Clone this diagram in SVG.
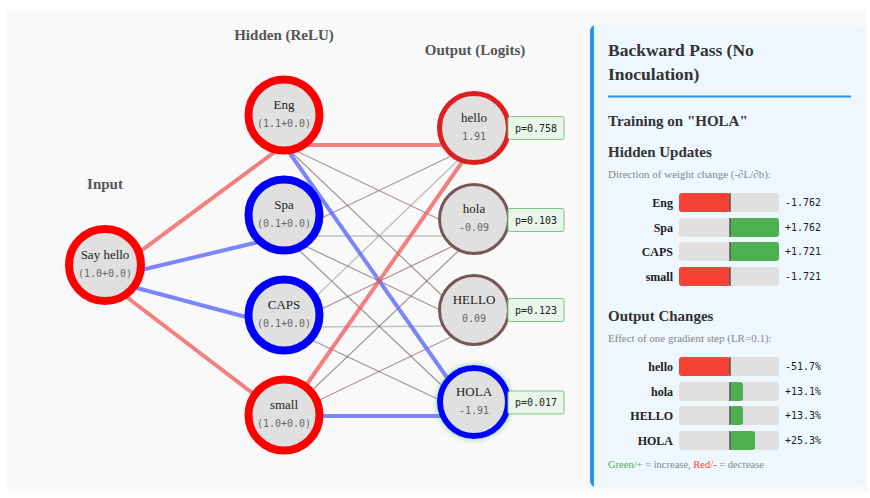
<svg xmlns="http://www.w3.org/2000/svg" width="870" height="498" viewBox="0 0 870 498">
  <style>
    .layer-title { font-family: "Liberation Serif", serif; font-size: 15px; font-weight: bold; fill: #555; text-anchor: middle; }
    .node-fill { fill: #e0e0e0; }
    .name { font-family: "Liberation Serif", serif; font-size: 13px; fill: #222; text-anchor: middle; }
    .val { font-family: "DejaVu Sans Mono", monospace; font-size: 10px; fill: #666; text-anchor: middle; }
    .act-pos { stroke: #ff0000; stroke-width: 8; }
    .act-neg { stroke: #0000ff; stroke-width: 8; }
    .out-neutral { stroke: #795555; stroke-width: 3; }
    .w-red { stroke: rgba(240, 80, 80, 0.72); stroke-width: 4; fill: none; }
    .w-blue { stroke: rgba(90, 100, 255, 0.78); stroke-width: 4; fill: none; }
    .w-brown { stroke: rgba(110, 75, 75, 0.55); stroke-width: 1.3; fill: none; }
    .w-purple { stroke: rgba(95, 85, 115, 0.6); stroke-width: 1.3; fill: none; }
    .w-grey { stroke: rgba(150, 150, 150, 0.55); stroke-width: 1.5; fill: none; }
    .pbox { fill: #e8f5e9; stroke: #7cc67f; stroke-width: 1; }
    .ptext { font-family: "DejaVu Sans Mono", monospace; font-size: 10px; fill: #222; text-anchor: middle; }
    .h1 { font-family: "Liberation Serif", serif; font-size: 17.5px; font-weight: bold; fill: #333; }
    .h2 { font-family: "Liberation Serif", serif; font-size: 15px; font-weight: bold; fill: #333; }
    .note { font-family: "Liberation Serif", serif; font-size: 11px; fill: #888; }
    .legend { font-family: "Liberation Serif", serif; font-size: 10.5px; fill: #888; }
    .blabel { font-family: "Liberation Serif", serif; font-size: 12px; font-weight: bold; fill: #222; text-anchor: end; }
    .bval { font-family: "DejaVu Sans Mono", monospace; font-size: 10px; fill: #222; }
    .track { fill: #e0e0e0; }
    .dec { fill: #f44336; }
    .inc { fill: #4caf50; }
    .axis { stroke: #555; stroke-width: 1.5; }
  </style>
  <defs>
    <filter id="glow" x="-40%" y="-40%" width="180%" height="180%">
      <feDropShadow dx="0" dy="0" stdDeviation="3" flood-color="#4caf50" flood-opacity="0.6"/>
    </filter>
    <clipPath id="panelClip">
      <rect x="590" y="25" width="275" height="462" rx="6"/>
    </clipPath>
  </defs>

  <!-- page -->
  <rect width="870" height="498" fill="#ffffff"/>
  <rect x="7" y="9" width="860" height="483" fill="#f9f9f9"/>

  <!-- layer titles -->
  <text class="layer-title" x="105" y="189">Input</text>
  <text class="layer-title" x="284" y="40">Hidden (ReLU)</text>
  <text class="layer-title" x="475" y="55">Output (Logits)</text>

  <!-- connectors -->
  <g id="connectors">
    <!-- input to hidden -->
    <line class="w-red" x1="103" y1="279" x2="284" y2="145"/>
    <line class="w-blue" x1="103" y1="279" x2="284" y2="236"/>
    <line class="w-blue" x1="103" y1="279" x2="284" y2="327"/>
    <line class="w-red" x1="103" y1="279" x2="284" y2="417"/>
    <!-- hidden to output, thin -->
    <line class="w-brown" x1="284" y1="145" x2="474" y2="236"/>
    <line class="w-brown" x1="284" y1="145" x2="474" y2="326"/>
    <line class="w-brown" x1="284" y1="236" x2="474" y2="145"/>
    <line class="w-grey" x1="284" y1="236" x2="474" y2="236"/>
    <line class="w-brown" x1="284" y1="236" x2="474" y2="326"/>
    <line class="w-purple" x1="284" y1="236" x2="474" y2="416"/>
    <line class="w-grey" x1="284" y1="327" x2="474" y2="145"/>
    <line class="w-brown" x1="284" y1="327" x2="474" y2="236"/>
    <line class="w-grey" x1="284" y1="327" x2="474" y2="326"/>
    <line class="w-purple" x1="284" y1="327" x2="474" y2="416"/>
    <line class="w-brown" x1="284" y1="417" x2="474" y2="236"/>
    <line class="w-brown" x1="284" y1="417" x2="474" y2="326"/>
    <!-- hidden to output, strong -->
    <line class="w-red" x1="284" y1="145" x2="474" y2="145"/>
    <line class="w-blue" x1="284" y1="145" x2="474" y2="416"/>
    <line class="w-red" x1="284" y1="417" x2="474" y2="145"/>
    <line class="w-blue" x1="284" y1="416" x2="474" y2="416"/>
  </g>

  <!-- input node -->
  <g id="node-say-hello">
    <circle class="node-fill act-pos" cx="105" cy="265" r="36"/>
    <text class="name" x="105" y="259">Say hello</text>
    <text class="val" x="105" y="277">(1.0+0.0)</text>
  </g>

  <!-- hidden nodes -->
  <g id="node-eng">
    <circle class="node-fill act-pos" cx="284" cy="115" r="35.5"/>
    <text class="name" x="284" y="109">Eng</text>
    <text class="val" x="284" y="127">(1.1+0.0)</text>
  </g>
  <g id="node-spa">
    <circle class="node-fill act-neg" cx="284" cy="215" r="35.5"/>
    <text class="name" x="284" y="209">Spa</text>
    <text class="val" x="284" y="227">(0.1+0.0)</text>
  </g>
  <g id="node-caps">
    <circle class="node-fill act-neg" cx="284" cy="315" r="35.5"/>
    <text class="name" x="284" y="309">CAPS</text>
    <text class="val" x="284" y="327">(0.1+0.0)</text>
  </g>
  <g id="node-small">
    <circle class="node-fill act-pos" cx="284" cy="415" r="35.5"/>
    <text class="name" x="284" y="409">small</text>
    <text class="val" x="284" y="427">(1.0+0.0)</text>
  </g>

  <!-- output nodes -->
  <g id="node-hello">
    <circle class="node-fill" cx="474" cy="128" r="34.5" stroke="#dd1f1f" stroke-width="5"/>
    <text class="name" x="474" y="122">hello</text>
    <text class="val" x="474" y="140">1.91</text>
    <rect class="pbox" x="508" y="116.5" width="56" height="23" rx="2"/>
    <text class="ptext" x="536" y="131.5">p=0.758</text>
  </g>
  <g id="node-hola">
    <circle class="node-fill out-neutral" cx="474" cy="219" r="34.5"/>
    <text class="name" x="474" y="213">hola</text>
    <text class="val" x="474" y="231">-0.09</text>
    <rect class="pbox" x="508" y="208.5" width="56" height="23" rx="2"/>
    <text class="ptext" x="536" y="223.5">p=0.103</text>
  </g>
  <g id="node-HELLO">
    <circle class="node-fill out-neutral" cx="474" cy="310" r="34.5"/>
    <text class="name" x="474" y="304">HELLO</text>
    <text class="val" x="474" y="322">0.09</text>
    <rect class="pbox" x="508" y="298.5" width="56" height="23" rx="2"/>
    <text class="ptext" x="536" y="313.5">p=0.123</text>
  </g>
  <g id="node-HOLA">
    <circle class="node-fill" cx="474" cy="402" r="34" stroke="#0000ff" stroke-width="6" filter="url(#glow)"/>
    <text class="name" x="474" y="396">HOLA</text>
    <text class="val" x="474" y="414">-1.91</text>
    <rect class="pbox" x="508" y="391" width="56" height="23" rx="2"/>
    <text class="ptext" x="536" y="406">p=0.017</text>
  </g>

  <!-- side panel -->
  <g id="panel">
    <g clip-path="url(#panelClip)">
      <rect x="590" y="25" width="275" height="462" fill="#eef6fe"/>
      <rect x="590" y="25" width="4" height="462" fill="#2196f3"/>
    </g>
    <text class="h1" x="608" y="56">Backward Pass (No</text>
    <text class="h1" x="608" y="80">Inoculation)</text>
    <line x1="608" y1="96.5" x2="851" y2="96.5" stroke="#2196f3" stroke-width="2"/>

    <text class="h2" x="608" y="126">Training on "HOLA"</text>
    <text class="h2" x="608" y="157">Hidden Updates</text>
    <text class="note" x="608" y="178">Direction of weight change (-∂L/∂b):</text>

    <!-- hidden update bars -->
    <g id="bar-eng">
      <text class="blabel" x="673" y="206.5">Eng</text>
      <rect class="track" x="679" y="193" width="100" height="19" rx="3"/>
      <rect class="dec" x="679" y="193" width="51" height="19" rx="3"/>
      <line class="axis" x1="730" y1="193" x2="730" y2="212"/>
      <text class="bval" x="785" y="206">-1.762</text>
    </g>
    <g id="bar-spa">
      <text class="blabel" x="673" y="231.5">Spa</text>
      <rect class="track" x="679" y="218" width="100" height="19" rx="3"/>
      <rect class="inc" x="730" y="218" width="49" height="19" rx="3"/>
      <line class="axis" x1="730" y1="218" x2="730" y2="237"/>
      <text class="bval" x="785" y="231">+1.762</text>
    </g>
    <g id="bar-caps">
      <text class="blabel" x="673" y="255.5">CAPS</text>
      <rect class="track" x="679" y="242" width="100" height="19" rx="3"/>
      <rect class="inc" x="730" y="242" width="49" height="19" rx="3"/>
      <line class="axis" x1="730" y1="242" x2="730" y2="261"/>
      <text class="bval" x="785" y="255">+1.721</text>
    </g>
    <g id="bar-small">
      <text class="blabel" x="673" y="280.5">small</text>
      <rect class="track" x="679" y="267" width="100" height="19" rx="3"/>
      <rect class="dec" x="679" y="267" width="51" height="19" rx="3"/>
      <line class="axis" x1="730" y1="267" x2="730" y2="286"/>
      <text class="bval" x="785" y="280">-1.721</text>
    </g>

    <text class="h2" x="608" y="321">Output Changes</text>
    <text class="note" x="608" y="342">Effect of one gradient step (LR=0.1):</text>

    <!-- output change bars -->
    <g id="bar-hello">
      <text class="blabel" x="673" y="370.5">hello</text>
      <rect class="track" x="679" y="357" width="100" height="19" rx="3"/>
      <rect class="dec" x="679" y="357" width="51" height="19" rx="3"/>
      <line class="axis" x1="730" y1="357" x2="730" y2="376"/>
      <text class="bval" x="785" y="370">-51.7%</text>
    </g>
    <g id="bar-hola">
      <text class="blabel" x="673" y="395.5">hola</text>
      <rect class="track" x="679" y="382" width="100" height="19" rx="3"/>
      <rect class="inc" x="730" y="382" width="13" height="19" rx="3"/>
      <line class="axis" x1="730" y1="382" x2="730" y2="401"/>
      <text class="bval" x="785" y="395">+13.1%</text>
    </g>
    <g id="bar-HELLO">
      <text class="blabel" x="673" y="419.5">HELLO</text>
      <rect class="track" x="679" y="406" width="100" height="19" rx="3"/>
      <rect class="inc" x="730" y="406" width="13" height="19" rx="3"/>
      <line class="axis" x1="730" y1="406" x2="730" y2="425"/>
      <text class="bval" x="785" y="419">+13.3%</text>
    </g>
    <g id="bar-HOLA">
      <text class="blabel" x="673" y="444.5">HOLA</text>
      <rect class="track" x="679" y="431" width="100" height="19" rx="3"/>
      <rect class="inc" x="730" y="431" width="25" height="19" rx="3"/>
      <line class="axis" x1="730" y1="431" x2="730" y2="450"/>
      <text class="bval" x="785" y="444">+25.3%</text>
    </g>

    <text class="legend" x="608" y="468"><tspan fill="#4caf50">Green/+</tspan> = increase, <tspan fill="#f44336">Red/-</tspan> = decrease</text>
  </g>
</svg>
